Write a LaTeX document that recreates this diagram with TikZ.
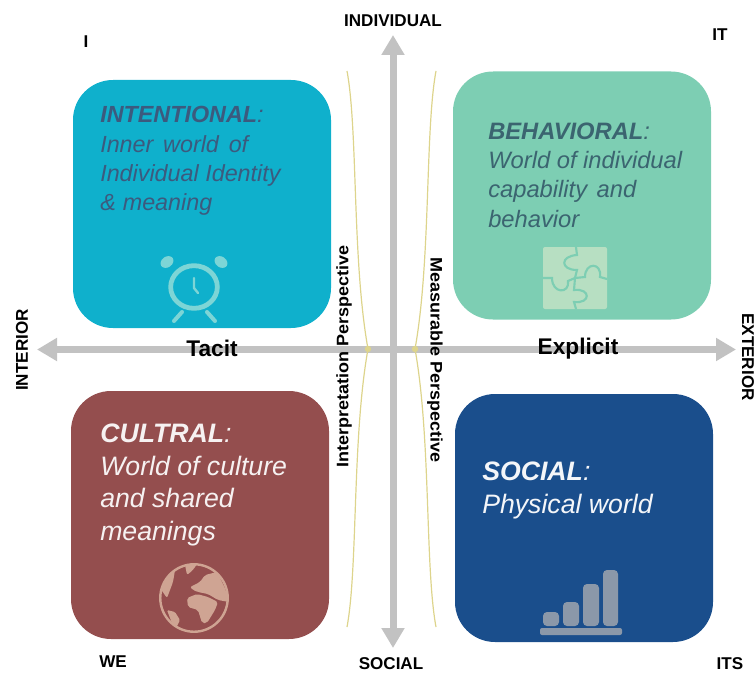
\documentclass[tikz,border=0pt]{standalone}
\usepackage{fontspec}
\setmainfont{Liberation Sans}
\usepackage{xcolor}
\usetikzlibrary{arrows.meta}
\definecolor{intentcol}{HTML}{0FB0CC}
\definecolor{behavcol}{HTML}{7DCEB3}
\definecolor{cultcol}{HTML}{944E4E}
\definecolor{socialcol}{HTML}{1A4E8C}
\definecolor{axiscol}{HTML}{C2C2C2}
\definecolor{pinchcol}{HTML}{DDD48C}
\definecolor{clockcol}{HTML}{7DD5D6}
\definecolor{puzzlecol}{HTML}{B7DFC2}
\definecolor{globecol}{HTML}{CFA493}
\definecolor{barcol}{HTML}{8B98A9}
\definecolor{intenttextcol}{HTML}{3C5A7E}
\definecolor{behavtextcol}{HTML}{3B6470}
\tikzset{
 quad/.style={rounded corners=30pt, minimum width=193.5pt, minimum height=186pt, inner sep=0},
 quadtext/.style 2 args={anchor=north west, inner sep=0, align=left, font=\itshape\fontsize{#1}{#2}\selectfont},
 outer/.style={font=\bfseries\fontsize{12.8}{15}\selectfont, inner sep=0},
 side/.style={font=\bfseries\fontsize{12.5}{14}\selectfont, inner sep=0},
 axis/.style={draw=axiscol, line width=5.25pt, {Triangle[length=15pt,width=16.5pt]}-{Triangle[length=15pt,width=16.5pt]}},
 pinch/.style={draw=pinchcol, line width=.9pt}
}
\begin{document}
\begin{tikzpicture}[x=.75pt, y=-.75pt]
\useasboundingbox (0,0) rectangle (756,674);
\node[quad, fill=intentcol] (intentional) at (202,204) {};
\node[quad, fill=behavcol] (behavioral) at (582,195.5) {};
\node[quad, fill=cultcol] (cultral) at (200,515) {};
\node[quad, fill=socialcol] (social) at (584,518) {};

\coordinate (indtip) at (393,35);
\coordinate (soctip) at (393,648);
\coordinate (inttip) at (37,349.5);
\coordinate (exttip) at (736,349.5);
\draw[axis] (indtip)--(soctip);
\draw[axis] (inttip)--(exttip);

\coordinate (lefttop) at (347,71);
\coordinate (leftpin) at (368,349);
\coordinate (leftbot) at (347,627);
\coordinate (righttop) at (436,71);
\coordinate (rightpin) at (415,349);
\coordinate (rightbot) at (436,627);
\draw[pinch] (lefttop) .. controls (358,130) and (352,260) .. (leftpin) .. controls (352,438) and (358,568) .. (leftbot);
\draw[pinch] (righttop) .. controls (425,130) and (431,260) .. (rightpin) .. controls (431,438) and (425,568) .. (rightbot);
\foreach \p in {leftpin,rightpin} {
 \fill[pinchcol] (\p) circle (2.4pt);
}

\node[quadtext={17.5}{22.1}, text=intenttextcol] (intenttext) at (100,106) {\textbf{INTENTIONAL}:\\Inner\hspace{.42em}world\hspace{.42em}of\\Individual Identity\\\&\hspace{.3em}meaning};
\node[quadtext={17.8}{21.8}, text=behavtextcol] (behavtext) at (488,123) {\textbf{BEHAVIORAL}:\\World of individual\\capability\hspace{.4em}and\\behavior};
\node[quadtext={20}{24.4}, text=white!92!cultcol] (culttext) at (100,424) {\textbf{CULTRAL}:\\World of culture\\and shared\\meanings};
\node[quadtext={20}{24.7}, text=white!95!socialcol] (socialtext) at (482,462) {\textbf{SOCIAL}:\\Physical world};

\draw[clockcol, line width=3.6pt] (194,287) ellipse (17.5pt and 16pt);
\foreach \x/\r in {167/35,221/-35} {
 \fill[clockcol, rotate around={\r:(\x,262)}] (\x,262) ellipse (5.2pt and 4pt);
}
\draw[clockcol, line width=3pt, line cap=round] (182,312)--(174,321);
\draw[clockcol, line width=3pt, line cap=round] (207,312)--(215,321);
\draw[clockcol, line width=1.8pt, line cap=round] (194,278)--(194,288)--(198,293);

\fill[puzzlecol, rounded corners=1.5pt] (543,247) rectangle (607,309);
\draw[behavcol, line width=1.6pt] (576,247)--(577,255) .. controls (560,256) and (560,270) .. (577,270)--(575,278);
\draw[behavcol, line width=1.6pt] (575,278)--(585,277) .. controls (585,262) and (602,262) .. (600,277)--(607,279);
\draw[behavcol, line width=1.6pt] (543,278)--(552,278) .. controls (552,294) and (570,294) .. (568,281)--(575,278);
\draw[behavcol, line width=1.6pt] (575,278)--(574,290) .. controls (591,288) and (591,304) .. (574,302)--(576,309);

\draw[globecol, line width=1.8pt] (194,598) circle (25.3pt);
\begin{scope}
\clip (194,598) circle (25pt);
\fill[globecol, rounded corners=1.5pt] (187,598)--(197,594)--(208,597)--(218,602)--(215,610)--(207,623)--(202,623)--(198,610)--(188,607)--cycle;
\fill[globecol, rounded corners=1.5pt] (190,587)--(200,582)--(205,575)--(217,572)--(225,588)--(229,602)--(218,600)--(208,594)--(198,592)--(193,590)--cycle;
\fill[globecol, rounded corners=1.5pt] (185,565)--(197,564)--(193,570)--(187,575)--cycle;
\fill[globecol, rounded corners=1.5pt] (160,588)--(167,575)--(175,570)--(173,582)--(167,598)--cycle;
\fill[globecol, rounded corners=1pt] (167,610)--(175,612)--(180,620)--(175,630)--(170,618)--cycle;
\end{scope}

\foreach \xa/\xb/\t in {543/559/612,563/579/602,583/599/584,603/618/570} {
 \fill[barcol, rounded corners=3pt] (\xa,626)--(\xa,\t)--(\xb,\t)--(\xb,626)--cycle;
}
\fill[barcol, rounded corners=1.5pt] (540,628) rectangle (622,635);

\node[outer] (individual) at (393,21) {INDIVIDUAL};
\node[outer] (soclabel) at (391,664) {SOCIAL};
\node[outer, rotate=90] (interior) at (22,350) {INTERIOR};
\node[outer, rotate=-90] (exterior) at (748,357) {EXTERIOR};
\node[outer] (ilabel) at (86,42) {I};
\node[outer] (itlabel) at (720,35) {IT};
\node[outer] (welabel) at (113,662) {WE};
\node[outer] (itslabel) at (730,664) {ITS};

\node[font=\bfseries\fontsize{17}{20}\selectfont, inner sep=0] (tacit) at (212,348) {Tacit};
\node[font=\bfseries\fontsize{17}{20}\selectfont, inner sep=0] (explicit) at (578,349) {Explicit};
\node[side, rotate=90] (interp) at (344,356) {\scalebox{1.08}[1]{Interpretation Perspective}};
\node[side, rotate=-90] (measur) at (435,360) {\scalebox{1.08}[1]{Measurable Perspective}};
\end{tikzpicture}
\end{document}
